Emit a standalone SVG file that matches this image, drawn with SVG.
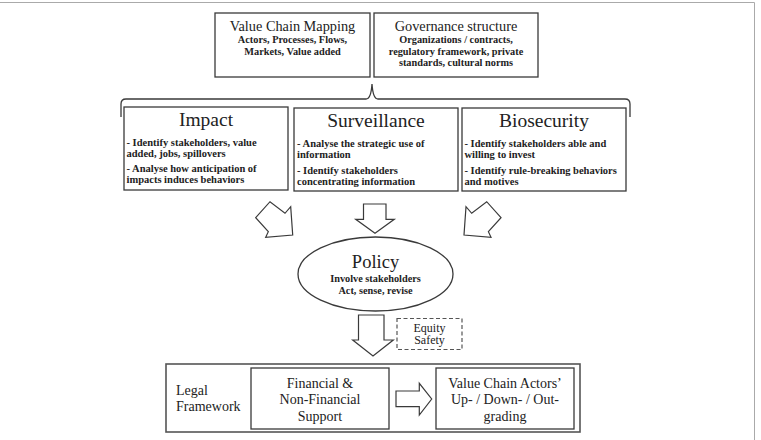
<svg xmlns="http://www.w3.org/2000/svg" width="761" height="440" viewBox="0 0 761 440">
<style>
  .box { fill: #fff; stroke: #3a3a3a; stroke-width: 1.3; }
  .blk { fill: #fff; stroke: #3a3a3a; stroke-width: 1.2; stroke-linejoin: miter; }
  .t { font-family: "Liberation Serif", "Times New Roman", serif; fill: #222; }
  .title { font-size: 14.3px; text-anchor: middle; }
  .sub { font-size: 10.3px; font-weight: bold; text-anchor: middle; }
  .h { font-size: 19.5px; text-anchor: middle; }
  .b { font-size: 10.5px; font-weight: bold; }
  .lo { font-size: 14px; }
  .mid { text-anchor: middle; }
</style>
<rect x="0" y="0" width="761" height="440" fill="#fff"/>
<path d="M0,2.5 H754.5 V440" fill="none" stroke="#aaa" stroke-width="1"/>

<g id="value-chain-mapping">
  <rect class="box" x="215" y="13" width="155" height="64"/>
  <text class="t title" x="292.5" y="31">Value Chain Mapping</text>
  <text class="t sub" x="292.5" y="43">Actors, Processes, Flows,</text>
  <text class="t sub" x="292.5" y="54.5">Markets, Value added</text>
</g>
<g id="governance-structure">
  <rect class="box" x="374" y="13" width="164" height="64"/>
  <text class="t title" x="456" y="31">Governance structure</text>
  <text class="t sub" x="456" y="43">Organizations / contracts,</text>
  <text class="t sub" x="456" y="54.5">regulatory framework, private</text>
  <text class="t sub" x="456" y="66">standards, cultural norms</text>
</g>

<g id="impact">
  <rect class="box" x="124" y="107" width="164" height="83"/>
  <text class="t h" x="206" y="126">Impact</text>
  <text class="t b" x="126.5" y="146">- Identify stakeholders, value</text>
  <text class="t b" x="126.5" y="157">added, jobs, spillovers</text>
  <text class="t b" x="126.5" y="172">- Analyse how anticipation of</text>
  <text class="t b" x="126.5" y="183">impacts induces behaviors</text>
</g>
<g id="surveillance">
  <rect class="box" x="294" y="108" width="164" height="83"/>
  <text class="t h" x="376" y="127">Surveillance</text>
  <text class="t b" x="297" y="147">- Analyse the strategic use of</text>
  <text class="t b" x="297" y="158">information</text>
  <text class="t b" x="297" y="174">- Identify stakeholders</text>
  <text class="t b" x="297" y="185">concentrating information</text>
</g>
<g id="biosecurity">
  <rect class="box" x="462" y="108" width="164" height="83"/>
  <text class="t h" x="544" y="127">Biosecurity</text>
  <text class="t b" x="464.5" y="147">- Identify stakeholders able and</text>
  <text class="t b" x="464.5" y="158">willing to invest</text>
  <text class="t b" x="464.5" y="174">- Identify rule-breaking behaviors</text>
  <text class="t b" x="464.5" y="185">and motives</text>
</g>

<g id="policy">
  <ellipse class="box" cx="375.5" cy="274" rx="77.5" ry="37"/>
  <text class="t mid" x="375.5" y="268" font-size="18.5">Policy</text>
  <text class="t sub" x="375.5" y="281.5" font-size="10.7">Involve stakeholders</text>
  <text class="t sub" x="375.5" y="294" font-size="10.7">Act, sense, revise</text>
</g>

<g id="equity-safety">
  <rect x="397" y="318.5" width="65" height="31" fill="#fff" stroke="#555" stroke-width="1.2" stroke-dasharray="4,2.5"/>
  <text class="t mid" x="429.5" y="331.5" font-size="12">Equity</text>
  <text class="t mid" x="429.5" y="344" font-size="12">Safety</text>
</g>

<g id="legal-framework">
  <rect x="166" y="364" width="414" height="68" fill="#fff" stroke="#555" stroke-width="1.6"/>
  <text class="t lo" x="176" y="394.5">Legal</text>
  <text class="t lo" x="176" y="411">Framework</text>
</g>
<g id="financial-support">
  <rect class="box" x="251" y="368" width="138" height="61"/>
  <text class="t lo mid" x="320" y="387.5">Financial &amp;</text>
  <text class="t lo mid" x="320" y="404">Non-Financial</text>
  <text class="t lo mid" x="320" y="420.5">Support</text>
</g>
<g id="value-chain-actors">
  <rect class="box" x="436" y="368" width="138" height="61"/>
  <text class="t lo mid" x="505" y="387.5">Value Chain Actors’</text>
  <text class="t lo mid" x="505" y="404">Up- / Down- / Out-</text>
  <text class="t lo mid" x="505" y="420.5">grading</text>
</g>

<g id="connectors">
  <path d="M121,117 V104 Q121,99 126,99 H366 Q371,99 372,84 Q373,99 378,99 H625 Q630,99 630,104 V117" fill="none" stroke="#3a3a3a" stroke-width="1.3"/>
  <polygon class="blk" points="255.7,217.7 270,201.7 285,213.3 290.7,206.7 292.7,235 265.7,237.3 268.3,231.7"/>
  <polygon class="blk" points="363.5,204 386,204 386,219.3 394.3,219.3 375,233.3 355.7,219.3 363.5,219.3"/>
  <polygon class="blk" points="501,217.7 486.7,201.7 471.7,213.3 466,206.7 464,235 491,237.3 488.4,231.7"/>
  <polygon class="blk" points="358.5,315 384,315 384,340 393.3,340 373,356 352.7,340 358.5,340"/>
  <polygon class="blk" points="396,391 419.3,391 419.3,383.3 431.7,399 419.3,415 419.3,406.7 396,406.7"/>
</g>
</svg>
